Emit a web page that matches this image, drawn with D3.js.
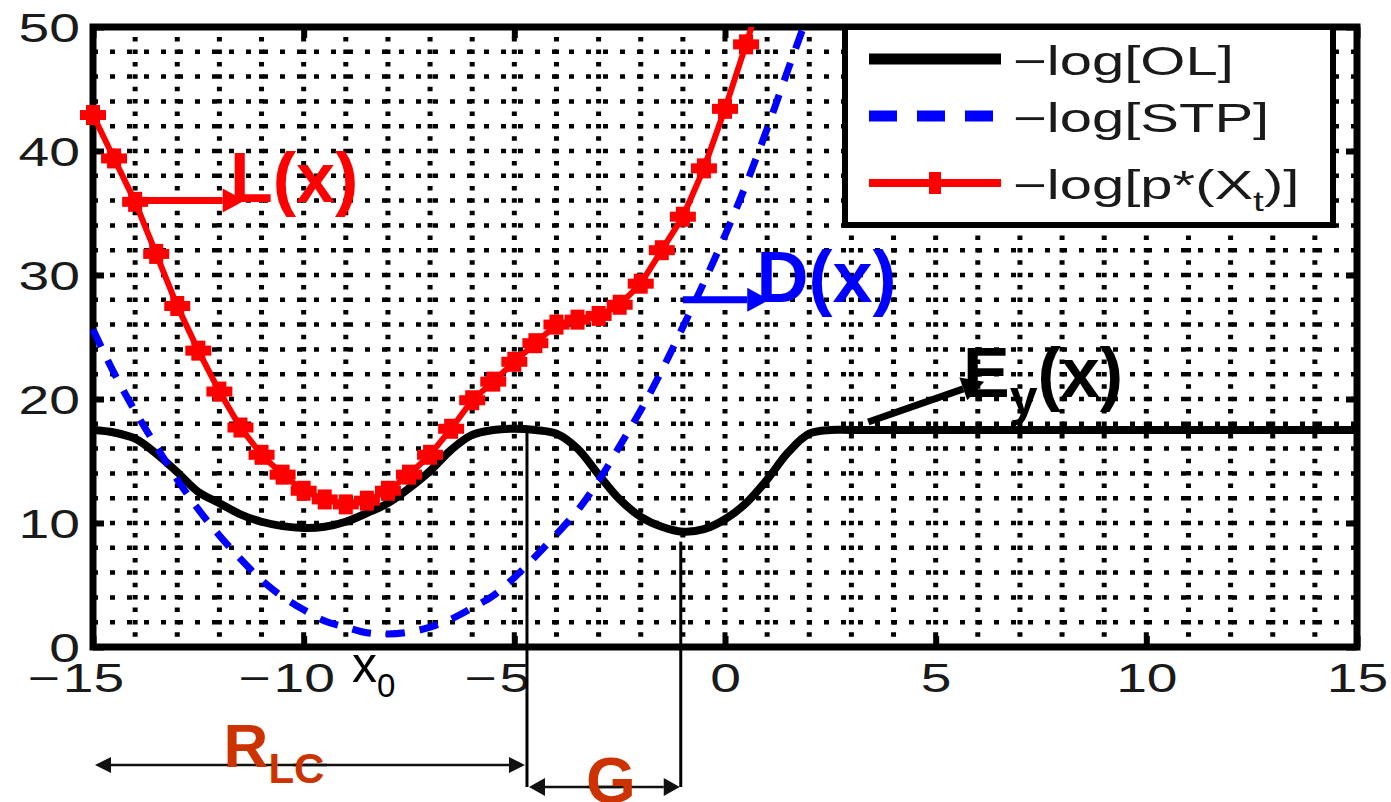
<!DOCTYPE html>
<html>
<head>
<meta charset="utf-8">
<script src="https://d3js.org/d3.v7.min.js"></script>
<style>
body { margin: 0; background: #fff; }
text { font-family: "Liberation Sans", Arial, sans-serif; }
</style>
</head>
<body>
<div id="chart-area"></div>
<script>
// -log[OL]
let xOL = [-15,-14.5,-14,-13.5,-13,-12.5,-12,-11.5,-11,-10.5,-10,-9.5,-9,-8.5,-8,-7.5,-7,-6.5,-6,-5.5,-5,-4.5,-4,-3.5,-3,-2.5,-2,-1.5,-1,-0.5,0,0.5,1,1.5,2,2.5,3,5,10,15];
let yOL = [17.5,17.3,16.8,15.6,14.1,12.5,11.6,10.7,10.1,9.75,9.6,9.7,10.1,10.8,11.6,12.8,14.2,15.9,17.1,17.5,17.6,17.5,17.2,16.0,13.9,11.9,10.5,9.7,9.3,9.5,10.3,11.6,13.5,15.7,17.2,17.5,17.5,17.5,17.5,17.5];

// -log[STP]
let xSTP = [-15,-14.5,-14,-13.5,-13,-12.5,-12,-11.5,-11,-10.5,-10,-9.5,-9,-8.5,-8,-7.5,-7,-6.5,-6,-5.5,-5,-4.5,-4,-3.5,-3,-2.5,-2,-1.5,-1,-0.5,0,0.5,1,1.5,2];
let ySTP = [25.6,22.1,19.0,16.2,13.5,11.1,9.0,7.1,5.4,4.05,3.0,2.1,1.6,1.15,1.05,1.2,1.6,2.25,3.15,4.15,5.6,7.3,9.1,11.0,13.4,16.2,19.1,22.3,25.8,29.4,33.2,37.3,41.8,46.6,51.3];

// -log[p*(X_t)]
let xPX = [-15,-14.5,-14,-13.5,-13,-12.5,-12,-11.5,-11,-10.5,-10,-9.5,-9,-8.5,-8,-7.5,-7,-6.5,-6,-5.5,-5,-4.5,-4,-3.5,-3,-2.5,-2,-1.5,-1,-0.5,0,0.5,1];
let yPX = [42.9,39.4,35.9,31.7,27.5,23.9,20.6,17.7,15.5,13.9,12.6,11.9,11.5,11.8,12.6,13.9,15.5,17.6,19.9,21.4,23.0,24.5,26.0,26.4,26.7,27.6,29.3,32.0,34.7,38.6,43.4,48.6,54.0];

let xTicks = [-15,-10,-5,0,5,10,15];
let yTicks = [0,10,20,30,40,50];

// arrows pointing at the curve names
let notes = [
	{label: "L", sub: "", rest: "(x)", color: "#ff0000", x1: -14, y1: 36, x2: -11.4, y2: 36, tx: -11.75, ty: 35.9, size: 70},
	{label: "D", sub: "", rest: "(x)", color: "#0000ff", x1: -1.0, y1: 28, x2: 1.05, y2: 28, tx: 0.75, ty: 27.8, size: 72},
	{label: "E", sub: "y", rest: "(x)", color: "#000000", x1: 3.4, y1: 18.15, x2: 6.15, y2: 21.4, tx: 5.65, ty: 20.2, size: 70}
];

// gap edges: peak of OL and its right dip
let gapX = [-4.7, -1.05];
let gapTop = [17.5, 8.5];

let margin = {top: 27, right: 34, bottom: 155, left: 93};
let width = 1391 - margin.left - margin.right,
	height = 802 - margin.top - margin.bottom;

let root = d3.select("#chart-area").append("svg")
	.attr("width", 1391)
	.attr("height", 802)
	.style("background", "#fff");

let svg = root.append("g")
	.attr("transform", "translate(" + margin.left + "," + margin.top + ")");

let x = d3.scaleLinear().domain([-15, 15]).range([0, width]);
let y = d3.scaleLinear().domain([0, 50]).range([height, 0]);

svg.append("clipPath").attr("id", "clip")
	.append("rect")
	.attr("x", -40).attr("y", 0)
	.attr("width", width + 80).attr("height", height);

// dotted grid
svg.append("g").selectAll("line")
	.data(x.ticks(30).filter(d => d > -15 && d < 15))
	.enter().append("line")
	.attr("x1", d => x(d)).attr("x2", d => x(d))
	.attr("y1", height).attr("y2", 0)
	.attr("stroke", "#000")
	.attr("stroke-width", 5)
	.attr("stroke-dasharray", "4.5,7.9")
	.attr("stroke-dashoffset", 2.2);

svg.append("g").selectAll("line")
	.data(y.ticks(25).filter(d => d > 0 && d < 50))
	.enter().append("line")
	.attr("x1", 0).attr("x2", width)
	.attr("y1", d => y(d)).attr("y2", d => y(d))
	.attr("stroke", "#000")
	.attr("stroke-width", 4.5)
	.attr("stroke-dasharray", "5,12");

// axes (ticks pointing inwards)
let fontAxis = 40;
let xAxis = svg.append("g")
	.attr("transform", "translate(0," + height + ")")
	.call(d3.axisBottom(x).tickValues(xTicks).tickSize(-11));
let yAxis = svg.append("g")
	.call(d3.axisLeft(y).tickValues(yTicks).tickSize(-11));
svg.append("g")
	.call(d3.axisTop(x).tickValues(xTicks).tickSize(-11).tickFormat(""));
svg.append("g")
	.attr("transform", "translate(" + width + ",0)")
	.call(d3.axisRight(y).tickValues(yTicks).tickSize(-11).tickFormat(""));

svg.selectAll(".domain").remove();
svg.selectAll(".tick line").attr("stroke", "#000").attr("stroke-width", 6);

xAxis.selectAll(".tick text")
	.attr("y", 0).attr("dy", null)
	.attr("font-size", fontAxis)
	.attr("fill", "#1a1a1a")
	.attr("transform", "translate(0,45) scale(1.38,1)")
	.text(d => Math.abs(d));
xAxis.selectAll(".tick").filter(d => d < 0)
	.append("text")
	.attr("transform", "translate(0,45) scale(1.38,1)")
	.attr("x", d => -String(Math.abs(d)).length * 11.1 - 2)
	.attr("text-anchor", "end")
	.attr("font-size", fontAxis)
	.attr("fill", "#1a1a1a")
	.text("\u2212");

yAxis.selectAll(".tick text")
	.attr("x", 0).attr("dy", "0.36em")
	.attr("font-size", fontAxis)
	.attr("fill", "#1a1a1a")
	.attr("text-anchor", "end")
	.attr("transform", "translate(-13,0) scale(1.38,1)");

// box
svg.append("rect")
	.attr("width", width).attr("height", height)
	.attr("fill", "none")
	.attr("stroke", "#000")
	.attr("stroke-width", 7);

let curves = svg.append("g").attr("clip-path", "url(#clip)");

let smooth = d3.line()
	.x(d => x(d[0])).y(d => y(d[1]))
	.curve(d3.curveCatmullRom);

curves.append("path")
	.datum(xOL.map((d, i) => [d, yOL[i]]))
	.attr("d", smooth)
	.attr("fill", "none")
	.attr("stroke", "#000")
	.attr("stroke-width", 8);

curves.append("path")
	.datum(xSTP.map((d, i) => [d, ySTP[i]]))
	.attr("d", smooth)
	.attr("fill", "none")
	.attr("stroke", "#0000ff")
	.attr("stroke-width", 7)
	.attr("stroke-dasharray", "19,15");

let px = xPX.map((d, i) => [d, yPX[i]]);
curves.append("path")
	.datum(px)
	.attr("d", d3.line().x(d => x(d[0])).y(d => y(d[1])))
	.attr("fill", "none")
	.attr("stroke", "#ff0000")
	.attr("stroke-width", 6);

// plus markers
let marks = curves.selectAll(".mark")
	.data(px.filter(d => d[1] <= 50))
	.enter().append("g")
	.attr("class", "mark")
	.attr("transform", d => "translate(" + x(d[0]) + "," + y(d[1]) + ")");
marks.append("rect").attr("x", -13).attr("y", -5).attr("width", 26).attr("height", 10).attr("fill", "#ff0000");
marks.append("rect").attr("x", -7).attr("y", -10).attr("width", 14).attr("height", 20).attr("fill", "#ff0000");

// legend
let lg = svg.append("g").attr("transform", "translate(" + (width - 268 - 24 - 220) + ",0)");
lg.append("rect")
	.attr("width", 488).attr("height", 198)
	.attr("fill", "#fff")
	.attr("stroke", "#000")
	.attr("stroke-width", 6);

let legendRows = [32, 89, 156];
lg.append("line").attr("x1", 24).attr("x2", 156).attr("y1", legendRows[0]).attr("y2", legendRows[0])
	.attr("stroke", "#000").attr("stroke-width", 11);
lg.append("line").attr("x1", 24).attr("x2", 156).attr("y1", legendRows[1]).attr("y2", legendRows[1])
	.attr("stroke", "#0000ff").attr("stroke-width", 11).attr("stroke-dasharray", "28,20");
lg.append("line").attr("x1", 24).attr("x2", 156).attr("y1", legendRows[2]).attr("y2", legendRows[2])
	.attr("stroke", "#ff0000").attr("stroke-width", 8);
lg.append("rect").attr("x", 84).attr("y", legendRows[2] - 11).attr("width", 12).attr("height", 22).attr("fill", "#ff0000");

let legendText = lg.selectAll(".lt")
	.data(legendRows)
	.enter().append("text")
	.attr("class", "lt")
	.attr("transform", d => "translate(168," + (d + 16) + ") scale(1.45,1)")
	.attr("font-size", 40)
	.attr("fill", "#1a1a1a");
legendText.filter((d, i) => i == 0).text("\u2212log[OL]");
legendText.filter((d, i) => i == 1).text("\u2212log[STP]");
let lt3 = legendText.filter((d, i) => i == 2);
lt3.append("tspan").text("\u2212log[p*(X");
lt3.append("tspan").attr("dy", 12).attr("font-size", 27).text("t");
lt3.append("tspan").attr("dy", -12).text(")]");

// annotation arrows
function head(x1, y1, x2, y2, len, half) {
	let a = Math.atan2(y2 - y1, x2 - x1);
	let bx = x2 - len * Math.cos(a), by = y2 - len * Math.sin(a);
	let ox = -Math.sin(a) * half, oy = Math.cos(a) * half;
	return [[x2, y2], [bx + ox, by + oy], [bx - ox, by - oy], [bx, by]];
}

function arrow(g, x1, y1, x2, y2, color, w, len, half) {
	let h = head(x1, y1, x2, y2, len, half);
	g.append("line")
		.attr("x1", x1).attr("y1", y1)
		.attr("x2", h[3][0]).attr("y2", h[3][1])
		.attr("stroke", color).attr("stroke-width", w);
	g.append("polygon")
		.attr("points", h.slice(0, 3).map(p => p.join(",")).join(" "))
		.attr("fill", color);
}

let ann = svg.append("g");
notes.forEach(n => {
	arrow(ann, x(n.x1), y(n.y1), x(n.x2), y(n.y2), n.color, 7, 22, 12);
	let t = ann.append("text")
		.attr("x", x(n.tx)).attr("y", y(n.ty))
		.attr("font-size", n.size)
		.attr("font-weight", "bold")
		.attr("fill", n.color);
	t.append("tspan").text(n.label);
	if (n.sub) {
		t.append("tspan").attr("dy", 18).attr("font-size", 50).text(n.sub);
		t.append("tspan").attr("dy", -18).text(n.rest);
	} else {
		t.append("tspan").text(n.rest);
	}
});

// x0 under the STP minimum
let x0 = ann.append("text")
	.attr("x", x(-8.85)).attr("y", height + 35)
	.attr("font-size", 50)
	.attr("fill", "#000");
x0.append("tspan").text("x");
x0.append("tspan").attr("dy", 15).attr("font-size", 33).text("0");

// R_LC and G dimension lines
let dimColor = "#cc3300";
let rY = height + 118, gY = height + 140, lineEnd = height + 140;
gapX.forEach((d, i) => {
	ann.append("line")
		.attr("x1", x(d)).attr("x2", x(d))
		.attr("y1", y(gapTop[i])).attr("y2", lineEnd)
		.attr("stroke", "#000").attr("stroke-width", 3);
});
arrow(ann, x(gapX[0]) - 200, rY, x(-15) + 2, rY, "#111", 2.5, 16, 8);
arrow(ann, x(-15) + 200, rY, x(gapX[0]) - 2, rY, "#111", 2.5, 16, 8);
arrow(ann, x(gapX[1]) - 60, gY, x(gapX[0]) + 2, gY, "#111", 2.5, 16, 9);
arrow(ann, x(gapX[0]) + 60, gY, x(gapX[1]) - 1, gY, "#111", 2.5, 16, 9);

let rlc = ann.append("text")
	.attr("x", x(-11.9)).attr("y", height + 120)
	.attr("font-size", 62)
	.attr("font-weight", "bold")
	.attr("fill", dimColor);
rlc.append("tspan").text("R");
rlc.append("tspan").attr("dy", 16).attr("font-size", 42).text("LC");

ann.append("text")
	.attr("x", x(-3.3)).attr("y", height + 156)
	.attr("font-size", 64)
	.attr("font-weight", "bold")
	.attr("fill", dimColor)
	.text("G");
</script>
</body>
</html>
